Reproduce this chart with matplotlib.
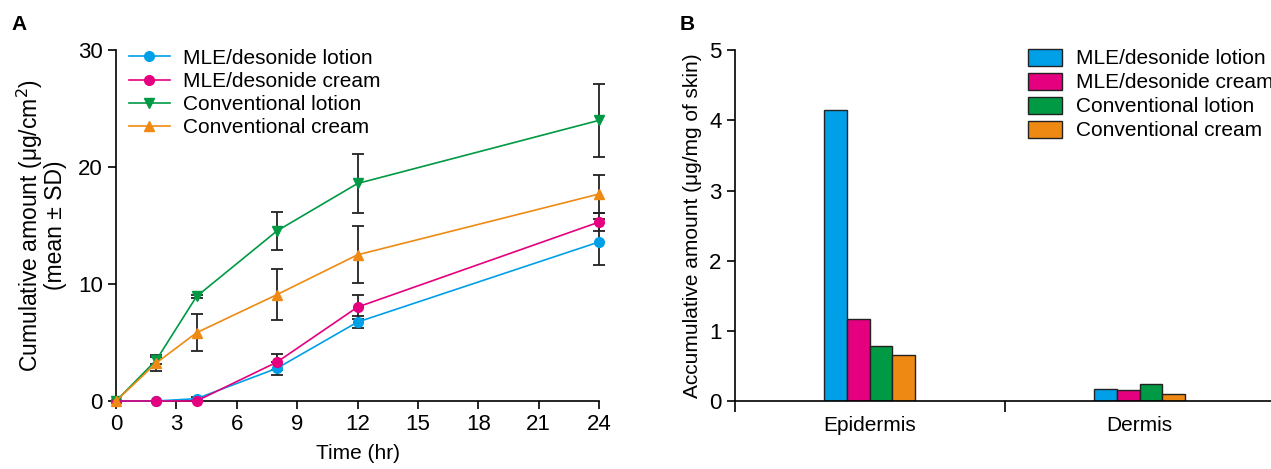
import numpy as np
import matplotlib
matplotlib.use("Agg")
import matplotlib.pyplot as plt

plt.rcParams["font.family"] = ["Liberation Sans", "DejaVu Sans"]

# panel A: cumulative permeation
time_hr = [0, 2, 4, 8, 12, 24]
series_names = ["MLE/desonide lotion", "MLE/desonide cream",
                "Conventional lotion", "Conventional cream"]
mle_lotion = [0, 0, 0.2, 2.8, 6.75, 13.6]
mle_lotion_sd = [0, 0, 0.1, 0.55, 0.5, 1.95]
mle_cream = [0, 0, 0, 3.33, 8.03, 15.3]
mle_cream_sd = [0, 0, 0, 0.7, 1.05, 0.8]
conv_lotion = [0, 3.5, 8.94, 14.55, 18.6, 24.0]
conv_lotion_sd = [0, 0.3, 0.15, 1.65, 2.55, 3.1]
conv_cream = [0, 3.25, 5.84, 9.1, 12.5, 17.7]
conv_cream_sd = [0, 0.65, 1.6, 2.2, 2.45, 1.65]

# panel B: skin retention
layers = ["Epidermis", "Dermis"]
ret_mle_lotion = [4.15, 0.17]
ret_mle_cream = [1.17, 0.15]
ret_conv_lotion = [0.79, 0.24]
ret_conv_cream = [0.66, 0.10]

colors = ["#00A0E9", "#E4007F", "#009944", "#EE8A13"]
markers = ["o", "o", "v", "^"]
fs = 15

fig = plt.figure(figsize=(12.71, 4.69), dpi=100)

# ---- A ----
ax = fig.add_axes([0.0913, 0.145, 0.380, 0.748])
data = [(mle_lotion, mle_lotion_sd), (mle_cream, mle_cream_sd),
        (conv_lotion, conv_lotion_sd), (conv_cream, conv_cream_sd)]
for (vals, sd), c, m, name in zip(data, colors, markers, series_names):
    ax.errorbar(time_hr, vals, yerr=sd, fmt="none", ecolor="#222222",
                elinewidth=1.3, capsize=4, capthick=1.3, clip_on=False, zorder=2)
for (vals, sd), c, m, name in zip(data, colors, markers, series_names):
    ax.plot(time_hr, vals, color=c, marker=m, markersize=7, lw=1.2,
            label=name, clip_on=False, zorder=3)
ax.set_xlim(0, 24)
ax.set_ylim(0, 30)
ax.set_xticks(range(0, 25, 3))
ax.set_yticks([0, 10, 20, 30])
for s in ["top", "right"]:
    ax.spines[s].set_visible(False)
for s in ["left", "bottom"]:
    ax.spines[s].set_linewidth(1.2)
ax.tick_params(direction="out", length=6, width=1.2, labelsize=16)
ax.set_xlabel("Time (hr)", fontsize=fs, labelpad=6)
ax.set_ylabel("Cumulative amount (\u03bcg/cm$^2$)\n(mean \u00b1 SD)",
              fontsize=16.5, labelpad=8, linespacing=0.95)
ax.legend(loc="upper left", bbox_to_anchor=(0.0, 1.04), frameon=False,
          fontsize=fs, handlelength=2.0, handletextpad=0.6, labelspacing=0.2,
          borderaxespad=0.2)
fig.text(0.009, 0.935, "A", fontsize=fs, fontweight="bold")

# ---- B ----
bx = fig.add_axes([0.578, 0.145, 0.425, 0.748])
x = np.arange(len(layers))
w = 0.084
bars = [ret_mle_lotion, ret_mle_cream, ret_conv_lotion, ret_conv_cream]
for i, (vals, c, name) in enumerate(zip(bars, colors, series_names)):
    bx.bar(x + (i - 1.5) * w, vals, width=w, color=c, edgecolor="#222222",
           linewidth=1.0, label=name, zorder=2)
bx.set_xlim(-0.5, 1.5)
bx.set_ylim(0, 5)
bx.set_yticks(range(0, 6))
bx.set_xticks([-0.5, 0.5, 1.5])
bx.set_xticklabels([])
bx.set_xticks(x, minor=True)
bx.set_xticklabels(layers, minor=True, fontsize=fs)
bx.tick_params(axis="x", which="minor", length=0, pad=11)
bx.tick_params(axis="x", which="major", direction="out", length=8, width=1.2)
bx.tick_params(axis="y", direction="out", length=6, width=1.2, labelsize=16)
for s in ["top", "right"]:
    bx.spines[s].set_visible(False)
for s in ["left", "bottom"]:
    bx.spines[s].set_linewidth(1.2)
bx.set_ylabel("Accumulative amount (\u03bcg/mg of skin)", fontsize=fs, labelpad=5)
bx.legend(loc="upper left", bbox_to_anchor=(0.52, 1.04), frameon=False,
          fontsize=fs, handlelength=1.65, handleheight=0.9, handletextpad=0.65,
          labelspacing=0.2, borderaxespad=0.2)
fig.text(0.535, 0.935, "B", fontsize=fs, fontweight="bold")

fig.savefig("out.png", dpi=100)
